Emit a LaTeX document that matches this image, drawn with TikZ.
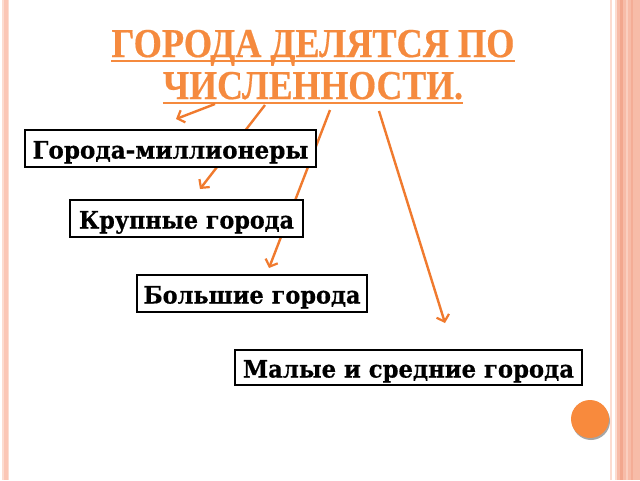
\documentclass[tikz,border=0pt]{standalone}
\usepackage{fontspec}
\usepackage{graphicx}
\setmainfont{DejaVu Serif}
\newfontface\boxfont{DejaVu Serif Bold}[FakeBold=0.6]
\newfontface\titlefont{Liberation Serif Bold}[FakeBold=0.5]
\usetikzlibrary{arrows.meta}
\definecolor{ttl}{HTML}{F58A3E}
\definecolor{arr}{HTML}{F07A2E}
\definecolor{bord}{HTML}{F7BCA8}
\definecolor{bordd}{HTML}{F2A78E}
\definecolor{bordl}{HTML}{FCDCD0}
\definecolor{lbord}{HTML}{FBC6B5}
\definecolor{dot}{HTML}{F88A3D}
\tikzset{
  x=1pt,y=-1pt,
  catbox/.style={draw=black,line width=1.6pt,fill=white,inner sep=0pt,anchor=center,
    text height=28.5pt,text depth=8.5pt,align=center},
  ttltext/.style={text=ttl,inner sep=0pt,anchor=base},
  ulin/.style={draw=ttl,line width=2.2pt},
  arrline/.style={draw=arr,line width=2.4pt,-{Straight Barb[length=6pt,width=13pt,line width=2.2pt]}},
}
\newcommand{\bxt}[2]{\resizebox{#1}{\height}{\boxfont\fontsize{24}{26}\selectfont #2}}
\begin{document}
\begin{tikzpicture}
\useasboundingbox (0,0) rectangle (640,480);
\fill[white] (0,0) rectangle (640,480);
% left border
\fill[bordl] (2,0) rectangle (9,480);
\fill[lbord] (3.5,0) rectangle (7.5,480);
% right border
\fill[bordl] (610,0) rectangle (612,480);
\fill[bordl] (615,0) rectangle (617,480);
\fill[bord] (617,0) rectangle (640,480);
\fill[bordd] (620,0) rectangle (623,480);
\fill[bordl!60!bord] (626,0) rectangle (628,480);
\fill[bordd!70!bord] (631,0) rectangle (633,480);
% title
\node[ttltext] (t1) at (313,57) {\resizebox{403pt}{\height}{\titlefont\fontsize{41}{44}\selectfont ГОРОДА ДЕЛЯТСЯ ПО}};
\node[ttltext] (t2) at (313,99) {\resizebox{300pt}{\height}{\titlefont\fontsize{41}{44}\selectfont ЧИСЛЕННОСТИ.}};
\draw[ulin] ([yshift=-4pt]t1.base west) -- ([yshift=-4pt]t1.base east);
\draw[ulin] ([yshift=-4pt]t2.base west) -- ([yshift=-4pt]t2.base east);
% arrows
\coordinate (s1) at (215,104); \coordinate (e1) at (176,119);
\coordinate (s2) at (265,105); \coordinate (e2) at (200,189);
\coordinate (s3) at (330,110); \coordinate (e3) at (269,268);
\coordinate (s4) at (379,111); \coordinate (e4) at (445,323);
\draw[arrline] (s1) -- (e1);
\draw[arrline] (s2) -- (e2);
\draw[arrline] (s3) -- (e3);
\draw[arrline] (s4) -- (e4);
% boxes
\node[catbox,minimum width=291pt] (b1) at (170.5,148.5) {\bxt{276pt}{Города-миллионеры}};
\node[catbox,minimum width=233pt] (b2) at (186.5,218.5) {\bxt{215pt}{Крупные города}};
\node[catbox,minimum width=230pt] (b3) at (252,293.5) {\bxt{217pt}{Большие города}};
\node[catbox,minimum width=347pt,text height=27.5pt,text depth=7.5pt] (b4) at (408.5,367.5) {\bxt{331pt}{Малые и средние города}};
% dot
\fill[black!35] (591,421) circle (19);
\fill[dot] (590,419) circle (19);
\end{tikzpicture}
\end{document}
